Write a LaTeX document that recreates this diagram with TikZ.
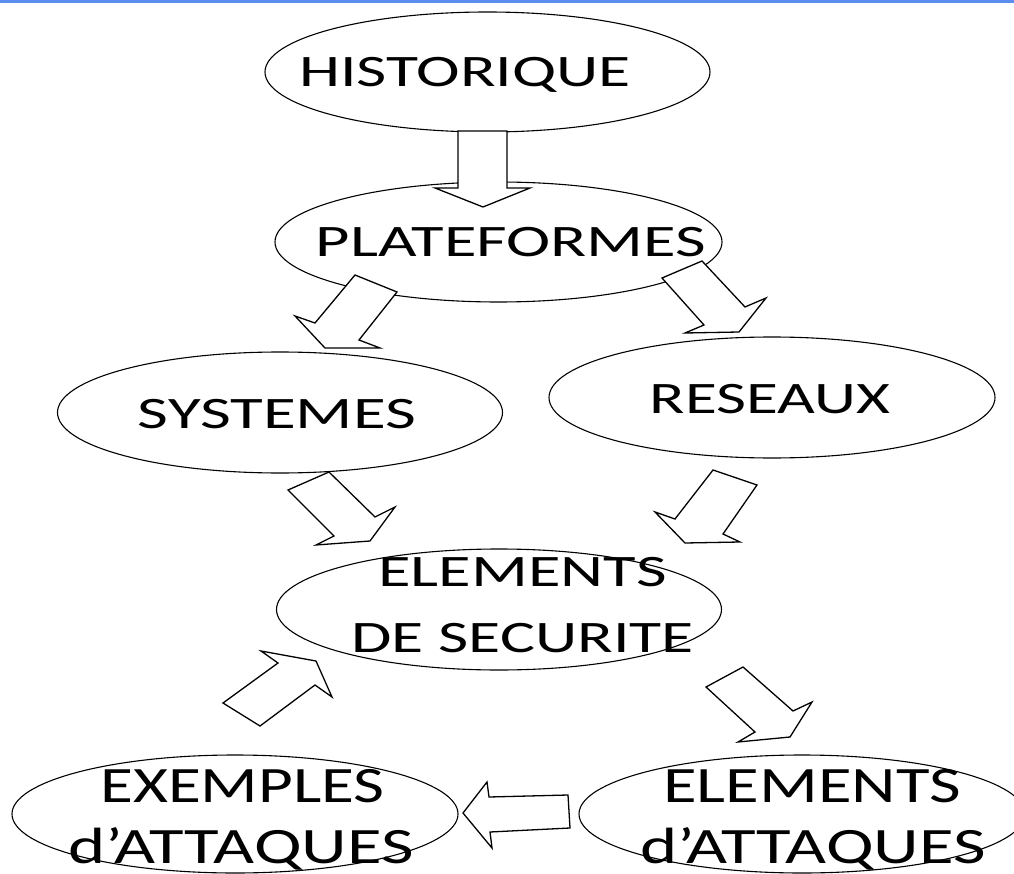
\documentclass[tikz,border=0pt]{standalone}
\usepackage{fontspec}
\setmainfont{Carlito}
\usetikzlibrary{shapes.geometric}
\definecolor{topblue}{HTML}{5B8DEF}
\begin{document}
\begin{tikzpicture}[x=1pt,y=-1pt,
  ell/.style={ellipse, draw=black, line width=1.1pt, fill=white, inner sep=0pt},
  lbl/.style={inner sep=0pt, anchor=base, font=\fontsize{45}{54}\selectfont},
  lblb/.style={inner sep=0pt, anchor=base, font=\fontsize{51}{60}\selectfont},
  barrow/.style={draw=black, line width=1.3pt, fill=white, line join=miter}]
\useasboundingbox (0,0) rectangle (1014,874);
\clip (0,0) rectangle (1014,874);
\fill[white] (0,0) rectangle (1014,874);
\fill[topblue] (0,0) rectangle (1014,3);

% ellipses
\node[ell, minimum width=445pt, minimum height=120pt] (hist) at (487.5,72) {};
\node[ell, minimum width=447pt, minimum height=120pt] (plat) at (498.5,242) {};
\node[ell, minimum width=445pt, minimum height=121pt] (sys) at (280,412.5) {};
\node[ell, minimum width=446pt, minimum height=121pt] (res) at (772,397.5) {};
\node[ell, minimum width=445pt, minimum height=121pt] (sec) at (499,609.5) {};
\node[ell, minimum width=446pt, minimum height=118pt] (exa) at (235,814) {};
\node[ell, minimum width=446pt, minimum height=118pt] (ela) at (802,814) {};

% block arrows
\draw[barrow] (458,131) -- (458,188) -- (435,188) -- (483,207) -- (530,188) -- (507,188) -- (507,131) -- cycle;
\draw[barrow] (355,275) -- (315,323) -- (295,316) -- (325,348) -- (380,348) -- (359,340) -- (397,292) -- cycle;
\draw[barrow] (662,278) -- (702,261) -- (745,307) -- (766,298) -- (739,332) -- (685,333) -- (704,325) -- cycle;
\draw[barrow] (288,490) -- (329,472) -- (375,517) -- (395,507) -- (370,541) -- (316,545) -- (334,536) -- cycle;
\draw[barrow] (713,470) -- (757,485) -- (723,534) -- (740,542) -- (685,543) -- (655,512) -- (675,519) -- cycle;
\draw[barrow] (223,703) -- (260,726) -- (315,685) -- (332,697) -- (316,661) -- (261,651) -- (278,663) -- cycle;
\draw[barrow] (706,687) -- (743,667) -- (793,711) -- (812,702) -- (790,737) -- (738,742) -- (755,732) -- cycle;
\draw[barrow] (463,813) -- (487,782) -- (489,797) -- (568,795) -- (570,828) -- (490,832) -- (492,848) -- cycle;

% labels
\node[lbl] (t-hist) at (465,87) {\scalebox{1.46}[1]{HISTORIQUE}};
\node[lbl] (t-plat) at (511,257) {\scalebox{1.48}[1]{PLATEFORMES}};
\node[lbl] (t-sys) at (277,428) {\scalebox{1.49}[1]{SYSTEMES}};
\node[lbl] (t-res) at (770,413) {\scalebox{1.45}[1]{RESEAUX}};
\node[lbl] (t-sec1) at (522.5,586) {\scalebox{1.48}[1]{ELEMENTS}};
\node[lbl] (t-sec2) at (522.5,652) {\scalebox{1.46}[1]{DE SECURITE}};
\node[lblb] (t-exa1) at (242.5,802) {\scalebox{1.32}[1]{EXEMPLES}};
\node[lblb] (t-exa2) at (241,863) {\scalebox{1.39}[1]{d’ATTAQUES}};
\node[lblb] (t-ela1) at (812,802) {\scalebox{1.35}[1]{ELEMENTS}};
\node[lblb] (t-ela2) at (813,863) {\scalebox{1.39}[1]{d’ATTAQUES}};
\end{tikzpicture}
\end{document}
